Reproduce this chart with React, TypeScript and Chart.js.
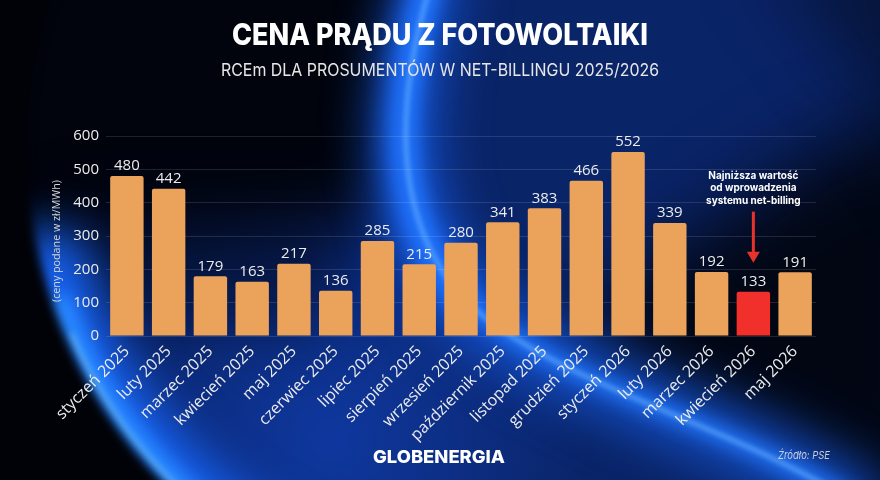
import React, { useEffect, useRef } from 'react';
import { Chart, registerables } from 'chart.js';

Chart.register(...registerables);

const categories = [
  'styczeń 2025', 'luty 2025', 'marzec 2025', 'kwiecień 2025', 'maj 2025', 'czerwiec 2025',
  'lipiec 2025', 'sierpień 2025', 'wrzesień 2025', 'październik 2025', 'listopad 2025',
  'grudzień 2025', 'styczeń 2026', 'luty 2026', 'marzec 2026', 'kwiecień 2026', 'maj 2026',
];
const values = [480, 442, 179, 163, 217, 136, 285, 215, 280, 341, 383, 466, 552, 339, 192, 133, 191];
const highlightIndex = 15;
const yMin = 0;
const yMax = 600;
const yStep = 100;

const titleText = 'CENA PRĄDU Z FOTOWOLTAIKI';
const subtitleText = 'RCEm DLA PROSUMENTÓW W NET-BILLINGU 2025/2026';
const yAxisTitle = '(ceny podane w zł/MWh)';
const noteLines = ['Najniższa wartość', 'od wprowadzenia', 'systemu net-billing'];
const brandText = 'GLOBENERGIA';
const sourceText = 'Źródło: PSE';

const ORANGE = '#EBA35B';
const RED = '#F2302B';
const TEXT = '#ECECEC';

function fitText(ctx: CanvasRenderingContext2D, text: string, cx: number, y: number, targetW: number) {
  const w = ctx.measureText(text).width;
  ctx.save();
  ctx.translate(cx, y);
  ctx.scale(targetW / w, 1);
  ctx.textAlign = 'center';
  ctx.fillText(text, 0, 0);
  ctx.restore();
}

function drawBackground(ctx: CanvasRenderingContext2D, w: number, h: number) {
  ctx.save();
  // base navy
  ctx.fillStyle = '#0a2468';
  ctx.fillRect(0, 0, w, h);

  // brighter blue lower middle
  let g = ctx.createRadialGradient(330, 440, 10, 330, 440, 260);
  g.addColorStop(0, 'rgba(18,70,200,0.55)');
  g.addColorStop(1, 'rgba(18,70,200,0)');
  ctx.fillStyle = g;
  ctx.fillRect(0, 0, w, h);

  // dark top-left region (west of swoosh)
  ctx.filter = 'blur(30px)';
  ctx.fillStyle = 'rgba(1,3,10,0.97)';
  ctx.beginPath();
  ctx.moveTo(-80, -80);
  ctx.lineTo(425, -80);
  ctx.bezierCurveTo(400, 60, 380, 150, 375, 210);
  ctx.bezierCurveTo(300, 240, 160, 230, 40, 250);
  ctx.lineTo(-80, 260);
  ctx.closePath();
  ctx.fill();

  // dark mid-left halo over bars area
  ctx.fillStyle = 'rgba(2,8,25,0.5)';
  ctx.beginPath();
  ctx.moveTo(60, 200);
  ctx.lineTo(360, 200);
  ctx.lineTo(320, 330);
  ctx.lineTo(100, 330);
  ctx.closePath();
  ctx.fill();

  // dark right region (north-east of the diagonal band)
  ctx.filter = 'blur(40px)';
  ctx.fillStyle = 'rgba(1,3,10,0.9)';
  ctx.beginPath();
  ctx.moveTo(560, 340);
  ctx.lineTo(900, 520);
  ctx.lineTo(960, 520);
  ctx.lineTo(960, 100);
  ctx.lineTo(820, 150);
  ctx.lineTo(660, 260);
  ctx.closePath();
  ctx.fill();

  // top-right slight darkening
  ctx.fillStyle = 'rgba(1,3,10,0.5)';
  ctx.beginPath();
  ctx.moveTo(760, -60);
  ctx.lineTo(960, -60);
  ctx.lineTo(960, 200);
  ctx.closePath();
  ctx.fill();

  // left limb glow (arc A)
  const cx = 500, cy = 150, r = 467;
  const arcA = (a0: number, a1: number) => {
    ctx.beginPath();
    ctx.arc(cx, cy, r, a0, a1);
  };
  ctx.lineCap = 'round';
  ctx.filter = 'blur(24px)';
  ctx.strokeStyle = 'rgba(25,105,255,0.95)';
  ctx.lineWidth = 75;
  arcA(Math.PI * 0.6, Math.PI * 0.92);
  ctx.stroke();
  ctx.filter = 'blur(8px)';
  ctx.strokeStyle = 'rgba(40,135,255,1)';
  ctx.lineWidth = 28;
  arcA(Math.PI * 0.6, Math.PI * 0.89);
  ctx.stroke();
  ctx.filter = 'blur(3px)';
  ctx.strokeStyle = 'rgba(90,175,255,0.95)';
  ctx.lineWidth = 6;
  arcA(Math.PI * 0.62, Math.PI * 0.87);
  ctx.stroke();

  // black outside the limb (left part only)
  ctx.save();
  ctx.beginPath();
  ctx.rect(-100, -100, 560, 700);
  ctx.clip();
  ctx.filter = 'blur(5px)';
  ctx.fillStyle = '#010207';
  ctx.beginPath();
  ctx.rect(-100, -100, 1100, 700);
  ctx.arc(cx, cy, r + 6, 0, Math.PI * 2, true);
  ctx.fill('evenodd');
  ctx.restore();

  // swoosh (curve B)
  const curveB = () => {
    ctx.beginPath();
    ctx.moveTo(432, -20);
    ctx.bezierCurveTo(398, 90, 385, 220, 470, 305);
    ctx.bezierCurveTo(560, 385, 720, 420, 850, 500);
  };
  const curveTop = () => {
    ctx.beginPath();
    ctx.moveTo(428, -20);
    ctx.bezierCurveTo(394, 90, 381, 220, 466, 305);
  };
  ctx.filter = 'blur(26px)';
  ctx.strokeStyle = 'rgba(25,100,245,0.8)';
  ctx.lineWidth = 55;
  curveB();
  ctx.stroke();
  ctx.filter = 'blur(12px)';
  ctx.strokeStyle = 'rgba(30,110,255,0.85)';
  ctx.lineWidth = 30;
  curveTop();
  ctx.stroke();
  ctx.filter = 'blur(8px)';
  ctx.strokeStyle = 'rgba(35,120,255,0.85)';
  ctx.lineWidth = 18;
  curveB();
  ctx.stroke();
  ctx.filter = 'blur(2.5px)';
  ctx.strokeStyle = 'rgba(100,175,255,0.8)';
  ctx.lineWidth = 4;
  curveB();
  ctx.stroke();

  ctx.filter = 'none';
  ctx.restore();
}

const decorPlugin = {
  id: 'decor',
  beforeDraw(chart: any) {
    drawBackground(chart.ctx, chart.width, chart.height);
  },
  afterDatasetsDraw(chart: any) {
    const ctx: CanvasRenderingContext2D = chart.ctx;
    const meta = chart.getDatasetMeta(0);
    ctx.save();
    ctx.fillStyle = TEXT;
    ctx.font = '15px "Open Sans"';
    ctx.textAlign = 'center';
    ctx.textBaseline = 'middle';
    meta.data.forEach((bar: any, i: number) => {
      ctx.fillText(String(values[i]), bar.x, bar.y - 10);
    });
    ctx.restore();
  },
  afterDraw(chart: any) {
    const ctx: CanvasRenderingContext2D = chart.ctx;
    const xs = chart.scales.x;
    const ys = chart.scales.y;
    ctx.save();
    ctx.textBaseline = 'alphabetic';

    // title
    ctx.fillStyle = '#FFFFFF';
    ctx.font = '800 30px Inter';
    fitText(ctx, titleText, 440, 45, 416);

    // subtitle
    ctx.fillStyle = '#E6E6E6';
    ctx.font = '400 17px Inter';
    fitText(ctx, subtitleText, 440, 76, 438);

    // y axis title
    ctx.save();
    ctx.translate(57, (ys.top + ys.bottom) / 2 + 5);
    ctx.rotate(-Math.PI / 2);
    ctx.fillStyle = '#D6D6D6';
    ctx.font = '10.5px "Open Sans"';
    ctx.textBaseline = 'middle';
    fitText(ctx, yAxisTitle, 0, 0, 122);
    ctx.restore();

    // annotation
    const hx = xs.getPixelForValue(highlightIndex);
    const hy = ys.getPixelForValue(values[highlightIndex]);
    ctx.fillStyle = '#FFFFFF';
    ctx.font = '700 10px Inter';
    const lineYs = [hy - 113, hy - 100.5, hy - 88];
    noteLines.forEach((t, i) => {
      ctx.textAlign = 'center';
      ctx.fillText(t, hx, lineYs[i]);
    });
    // arrow
    ctx.strokeStyle = '#E8322C';
    ctx.fillStyle = '#E8322C';
    ctx.lineWidth = 3;
    ctx.beginPath();
    ctx.moveTo(hx, hy - 80);
    ctx.lineTo(hx, hy - 38);
    ctx.stroke();
    ctx.beginPath();
    ctx.moveTo(hx - 6.5, hy - 40);
    ctx.lineTo(hx + 6.5, hy - 40);
    ctx.lineTo(hx, hy - 29);
    ctx.closePath();
    ctx.fill();

    // brand
    ctx.fillStyle = '#FFFFFF';
    ctx.font = '800 18px Inter';
    fitText(ctx, brandText, 439, 463, 132);

    // source
    ctx.fillStyle = '#C9CEDA';
    ctx.font = 'italic 11px Inter';
    fitText(ctx, sourceText, 804, 459, 52);

    ctx.restore();
  },
};

export default function App() {
  const ref = useRef<HTMLCanvasElement | null>(null);

  useEffect(() => {
    document.body.style.margin = '0';
    const canvas = ref.current;
    if (!canvas) return;
    const chart = new Chart(canvas, {
      type: 'bar',
      data: {
        labels: categories,
        datasets: [
          {
            data: values,
            backgroundColor: values.map((_, i) => (i === highlightIndex ? RED : ORANGE)),
            borderRadius: 2,
            borderSkipped: 'start',
            categoryPercentage: 0.8,
            barPercentage: 1.0,
          },
        ],
      },
      options: {
        responsive: false,
        animation: false,
        devicePixelRatio: 1,
        layout: { padding: { top: 136, right: 64, bottom: 0, left: 0 } },
        plugins: {
          legend: { display: false },
          tooltip: { enabled: false },
          title: { display: false },
        },
        scales: {
          x: {
            grid: { display: false, drawTicks: false },
            border: { display: false },
            ticks: {
              color: TEXT,
              font: { family: '"Open Sans"', size: 16 },
              minRotation: 45,
              maxRotation: 45,
              padding: 6,
              autoSkip: false,
            },
            afterFit: (s: any) => {
              s.height = 144;
            },
          },
          y: {
            min: yMin,
            max: yMax,
            grid: { color: 'rgba(255,255,255,0.12)', drawTicks: false, lineWidth: 1 },
            border: { display: false },
            ticks: {
              stepSize: yStep,
              color: TEXT,
              font: { family: '"Open Sans"', size: 15 },
              padding: 7,
            },
            afterFit: (s: any) => {
              s.width = 106;
            },
          },
        },
      },
      plugins: [decorPlugin],
    });
    return () => chart.destroy();
  }, []);

  return (
    <div style={{ width: 880, height: 480 }}>
      <canvas ref={ref} width={880} height={480} style={{ display: 'block' }} />
    </div>
  );
}
